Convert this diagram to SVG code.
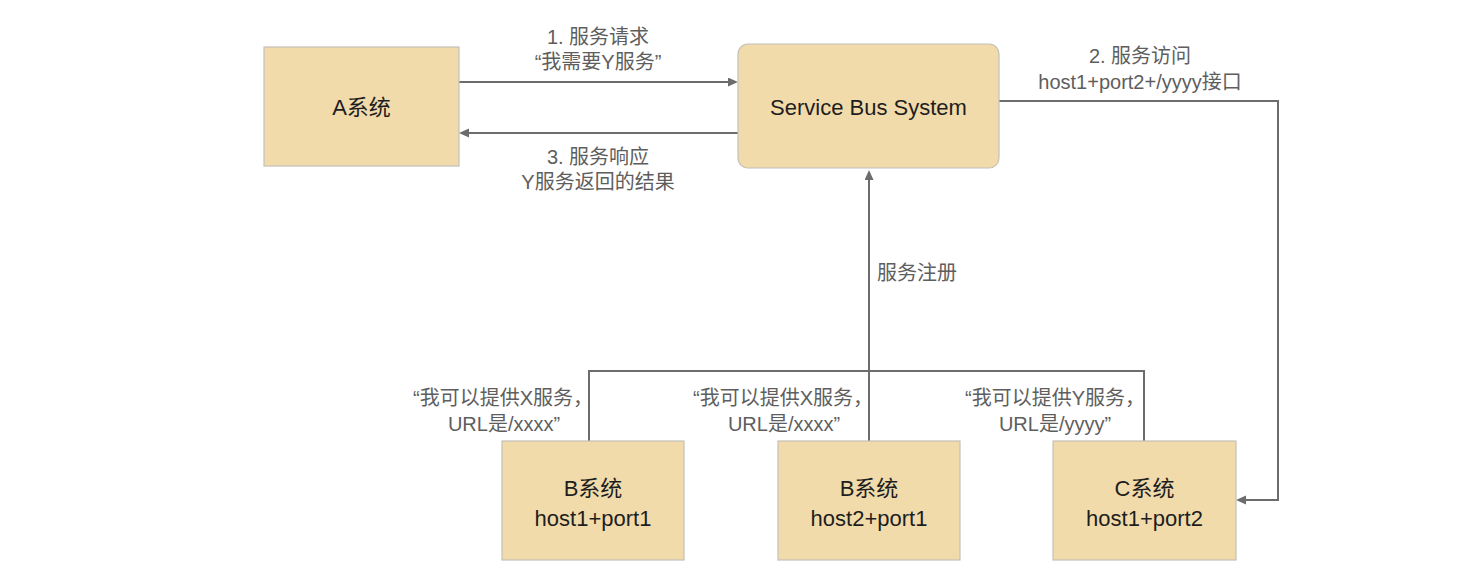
<svg xmlns="http://www.w3.org/2000/svg" width="1470" height="584" viewBox="0 0 1470 584">
<style>
.box{fill:#f2dbab;stroke:#c4c0b8;stroke-width:1.2}
.nt{font-family:"Liberation Sans","Noto Sans CJK SC",sans-serif;font-size:22px;fill:#1e1e1e;text-anchor:middle;dominant-baseline:central}
.lb{font-family:"Liberation Sans","Noto Sans CJK SC",sans-serif;font-size:20px;fill:#5e5e5e;text-anchor:middle;dominant-baseline:central}
.ln{fill:none;stroke:#6c6c6c;stroke-width:2}
</style>
<defs>
<marker id="ah" markerUnits="userSpaceOnUse" markerWidth="12" markerHeight="10" refX="2" refY="4.5" orient="auto">
<path d="M0,0 L10,4.5 L0,9 z" fill="#6c6c6c"/>
</marker>
</defs>
<rect width="1470" height="584" fill="#fff"/>
<g id="connectors">
<path class="ln" d="M459,82 H730" marker-end="url(#ah)"/>
<path class="ln" d="M738,133 H467" marker-end="url(#ah)"/>
<path class="ln" d="M999,101 H1278 V500 H1244" marker-end="url(#ah)"/>
<path class="ln" d="M589,441 V371 H1144 V441"/>
<path class="ln" d="M869,441 V178" marker-end="url(#ah)"/>
<text class="lb" x="598" y="37">1. 服务请求</text>
<text class="lb" x="598" y="62">“我需要Y服务”</text>
<text class="lb" x="598" y="157">3. 服务响应</text>
<text class="lb" x="598" y="182">Y服务返回的结果</text>
<text class="lb" x="1140" y="56">2. 服务访问</text>
<text class="lb" x="1140" y="82">host1+port2+/yyyy接口</text>
<text class="lb" x="917" y="273">服务注册</text>
<text class="lb" x="503" y="398">“我可以提供X服务，</text>
<text class="lb" x="504" y="424">URL是/xxxx”</text>
<text class="lb" x="783" y="398">“我可以提供X服务，</text>
<text class="lb" x="784" y="424">URL是/xxxx”</text>
<text class="lb" x="1055" y="398">“我可以提供Y服务，</text>
<text class="lb" x="1055" y="424">URL是/yyyy”</text>
</g>
<g id="nodeA">
<rect class="box" x="264" y="47" width="195" height="119"/>
<text class="nt" x="361.5" y="107">A系统</text>
</g>
<g id="nodeBus">
<rect class="box" x="738" y="44" width="261" height="124" rx="10" ry="10"/>
<text class="nt" x="868.5" y="107">Service Bus System</text>
</g>
<g id="nodeB1">
<rect class="box" x="502" y="441" width="182" height="119"/>
<text class="nt" x="593" y="488">B系统</text>
<text class="nt" x="593" y="518">host1+port1</text>
</g>
<g id="nodeB2">
<rect class="box" x="778" y="441" width="182" height="119"/>
<text class="nt" x="869" y="488">B系统</text>
<text class="nt" x="869" y="518">host2+port1</text>
</g>
<g id="nodeC">
<rect class="box" x="1053" y="441" width="183" height="119"/>
<text class="nt" x="1144.5" y="488">C系统</text>
<text class="nt" x="1144.5" y="518">host1+port2</text>
</g>
</svg>
